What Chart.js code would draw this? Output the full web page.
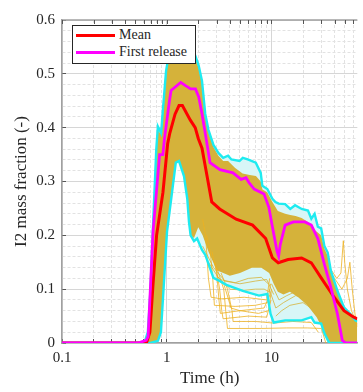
<!DOCTYPE html>
<html>
<head>
<meta charset="utf-8">
<script src="https://cdn.jsdelivr.net/npm/chart.js@4.4.0/dist/chart.umd.min.js"></script>
<style>
  html, body { margin: 0; padding: 0; background: #fff; }
  #wrap { position: relative; width: 363px; height: 392px; overflow: hidden; }
  #legendBox {
    position: absolute; left: 72px; top: 25px; width: 122px; height: 37px;
    background: #fff; border: 1px solid #262626;
    font-family: "Liberation Serif", "Times New Roman", serif; font-size: 14px; color: #262626;
  }
  .swatch { position: absolute; left: 3px; width: 39px; height: 3px; }
  .label { position: absolute; left: 46px; height: 17px; line-height: 17px; white-space: nowrap; }
</style>
</head>
<body>
<div id="wrap">
  <canvas id="chart" width="363" height="392"></canvas>
  <div id="legendBox">
    <div class="swatch" style="top:8px;background:#ff0000"></div>
    <div class="label" style="top:0px">Mean</div>
    <div class="swatch" style="top:25px;background:#ff00ff"></div>
    <div class="label" style="top:17px">First release</div>
  </div>
</div>
<script>
// x axis: time in hours (log), y axis: I2 mass fraction
const xTickLabels = [0.1, 1, 10];
const yTickLabels = [0, 0.1, 0.2, 0.3, 0.4, 0.5, 0.6];

const firstReleaseTime = [0.1, 0.536, 0.574, 0.636, 0.664, 0.74, 0.855, 0.918, 0.952, 1.06, 1.10, 1.36, 1.51, 1.69, 1.88, 2.02, 2.17, 2.33, 2.59, 3.22, 4.29, 5.13, 5.71, 6.1, 6.84, 8.48, 9.44, 10.2, 11.3, 11.7, 12.1, 13.5, 16.2, 20.8, 24.0, 27.7, 32.0, 36.9, 42.6, 47.4, 51, 66];
const firstReleaseValue = [0, 0, 0.002, 0.005, 0.012, 0.207, 0.35, 0.35, 0.38, 0.449, 0.469, 0.484, 0.478, 0.472, 0.472, 0.457, 0.426, 0.39, 0.335, 0.322, 0.316, 0.304, 0.307, 0.298, 0.286, 0.277, 0.252, 0.216, 0.170, 0.161, 0.182, 0.219, 0.225, 0.225, 0.219, 0.194, 0.146, 0.103, 0.054, 0.005, 0, 0];

const meanTime = [0.1, 0.64, 0.69, 0.74, 0.8, 0.92, 1.02, 1.07, 1.2, 1.31, 1.41, 1.68, 1.87, 2.0, 2.17, 2.42, 2.69, 3.2, 4.6, 6.6, 8.8, 10.2, 11.6, 14.4, 19.4, 24, 29.8, 39.6, 49.2, 61, 66];
const meanValue = [0, 0, 0.02, 0.11, 0.2, 0.28, 0.37, 0.39, 0.425, 0.441, 0.441, 0.414, 0.40, 0.38, 0.362, 0.311, 0.262, 0.249, 0.23, 0.219, 0.194, 0.158, 0.149, 0.155, 0.158, 0.149, 0.121, 0.085, 0.06, 0.048, 0.045];

const upperTime = [0.1, 0.58, 0.62, 0.66, 0.7, 0.74, 0.794, 0.823, 0.883, 0.918, 0.985, 1.06, 1.27, 1.63, 1.75, 1.88, 2.02, 2.17, 2.33, 2.5, 2.79, 3.11, 3.46, 3.85, 4.14, 4.95, 5.32, 5.93, 7.08, 7.89, 8.18, 9.12, 10.2, 10.9, 11.7, 13.5, 15.1, 16.8, 19.4, 22.3, 24.0, 25.8, 27.7, 29.8, 32.0, 34.4, 36.9, 42.6, 49.2, 56.8, 63.2, 66];
const upperValue = [0, 0, 0.004, 0.02, 0.1, 0.22, 0.359, 0.402, 0.39, 0.432, 0.505, 0.542, 0.55, 0.554, 0.548, 0.533, 0.515, 0.487, 0.426, 0.396, 0.368, 0.353, 0.344, 0.348, 0.341, 0.338, 0.344, 0.341, 0.335, 0.316, 0.292, 0.286, 0.268, 0.262, 0.259, 0.258, 0.249, 0.256, 0.249, 0.246, 0.231, 0.24, 0.216, 0.213, 0.18, 0.168, 0.134, 0.097, 0.066, 0.054, 0.042, 0.04];

const lowerTime = [0.1, 0.7, 0.823, 0.88, 1.006, 1.09, 1.22, 1.31, 1.46, 1.57, 1.63, 1.69, 1.82, 1.95, 2.17, 2.33, 2.79, 3.22, 3.71, 5.32, 7.6, 9.12, 9.8, 10.5, 13.5, 19.4, 24.0, 25.8, 29.8, 32.0, 35.6, 66];
const lowerValue = [0, 0, 0.004, 0.02, 0.207, 0.26, 0.335, 0.338, 0.31, 0.268, 0.225, 0.2, 0.189, 0.194, 0.173, 0.164, 0.121, 0.115, 0.108, 0.097, 0.088, 0.091, 0.054, 0.038, 0.042, 0.042, 0.048, 0.038, 0.036, 0.018, 0, 0];

// dense part of the ensemble
const goldTopTime = [0.1, 0.58, 0.62, 0.66, 0.7, 0.74, 0.794, 0.823, 0.883, 0.918, 0.985, 1.06, 1.27, 1.63, 1.75, 1.88, 2.02, 2.17, 2.33, 2.5, 2.79, 3.11, 3.46, 3.85, 4.5, 5.3, 6.2, 7.1, 7.9, 8.2, 9.1, 10.2, 11.5, 13.5, 15.1, 17, 19.4, 22.3, 25.8, 29.8, 32, 34.4, 36.9, 42.6, 49.2, 56.8, 63.2, 66];
const goldTopValue = [0, 0, 0.004, 0.02, 0.1, 0.22, 0.355, 0.395, 0.388, 0.428, 0.5, 0.538, 0.546, 0.55, 0.544, 0.53, 0.51, 0.482, 0.422, 0.392, 0.364, 0.348, 0.338, 0.338, 0.325, 0.315, 0.312, 0.31, 0.3, 0.285, 0.28, 0.262, 0.245, 0.24, 0.238, 0.236, 0.232, 0.225, 0.21, 0.2, 0.175, 0.162, 0.13, 0.095, 0.065, 0.054, 0.042, 0.04];
const goldBottomTime = [0.1, 0.7, 0.823, 0.88, 1.006, 1.09, 1.22, 1.31, 1.46, 1.57, 1.63, 1.69, 1.82, 2.0, 2.2, 2.5, 3.0, 4.0, 5.0, 6.5, 8.0, 9.5, 10.5, 11.5, 13, 15, 18, 22, 27, 32, 35, 66];
const goldBottomValue = [0, 0, 0.004, 0.02, 0.207, 0.26, 0.335, 0.338, 0.31, 0.268, 0.225, 0.2, 0.195, 0.215, 0.2, 0.17, 0.135, 0.125, 0.13, 0.14, 0.14, 0.13, 0.11, 0.095, 0.09, 0.095, 0.085, 0.07, 0.048, 0.02, 0, 0];

// single runs that stand out of the band
const runTimes = [
  [2.4, 2.6, 2.75, 2.85, 4.5, 7, 9.2, 9.8],
  [2.7, 3.0, 3.15, 3.25, 5, 7.5, 9.4, 10],
  [3.0, 3.5, 3.7, 3.8, 8, 14, 22, 30, 33],
  [2.2, 2.35, 2.5, 2.65, 3.3, 5.5, 9, 9.6],
  [3.3, 3.8, 4.2, 4.3, 7, 10.5, 16, 24, 28],
  [2.9, 3.2, 3.35, 3.45, 6, 9, 9.9],
  [3.5, 3.9, 4.1, 5, 8.5, 9.7],
  [36, 42, 46, 48.5, 50, 53, 58, 66],
  [40, 47, 53, 56, 59, 63, 66]
];
const runValues = [
  [0.2, 0.17, 0.12, 0.07, 0.068, 0.07, 0.075, 0.11],
  [0.17, 0.13, 0.08, 0.055, 0.06, 0.055, 0.06, 0.1],
  [0.14, 0.1, 0.05, 0.027, 0.027, 0.028, 0.028, 0.027, 0],
  [0.23, 0.2, 0.12, 0.085, 0.082, 0.085, 0.08, 0.12],
  [0.13, 0.1, 0.06, 0.04, 0.04, 0.037, 0.04, 0.038, 0.02],
  [0.15, 0.1, 0.06, 0.045, 0.05, 0.048, 0.08],
  [0.11, 0.08, 0.065, 0.06, 0.065, 0.09],
  [0.14, 0.12, 0.13, 0.19, 0.15, 0.1, 0.06, 0.035],
  [0.12, 0.1, 0.12, 0.15, 0.1, 0.05, 0.03]
];
const sparseTimes = [
  [9.5, 11, 13, 17, 22, 27, 31],
  [10, 11.8, 14, 18, 23, 28],
  [2.2, 2.8, 3.6, 5, 7, 9, 10.5],
  [3.0, 4, 5.5, 7, 8.5, 9.6],
  [2.5, 3.2, 4.5, 6, 8, 9.3],
  [11, 12.5, 15, 20, 26, 30]
];
const sparseValues = [
  [0.1, 0.065, 0.075, 0.088, 0.085, 0.06, 0.035],
  [0.11, 0.08, 0.088, 0.098, 0.092, 0.065],
  [0.18, 0.14, 0.115, 0.11, 0.115, 0.118, 0.09],
  [0.125, 0.1, 0.098, 0.1, 0.1, 0.095],
  [0.15, 0.118, 0.112, 0.12, 0.122, 0.11],
  [0.05, 0.06, 0.07, 0.075, 0.06, 0.04]
];

const xMin = 0.1, xMax = 66;

function pts(ts, vs) {
    return ts.map((t, i) => ({ x: t, y: vs[i] }));
}

function isDecade(v) {
    const l = Math.log10(v);
    return Math.abs(l - Math.round(l)) < 1e-6;
}

function buildXGrid() {
    const out = [];
    for (let e = -1; e <= 1; e++) {
        for (let m = 1; m <= 9; m++) {
            const v = +(m * Math.pow(10, e)).toPrecision(6);
            if (v >= xMin && v <= xMax) out.push(v);
        }
    }
    return out;
}

function buildYGrid() {
    const out = [];
    for (let i = 0; i <= 30; i++) out.push(i / 50);
    return out;
}

function isYMajor(v) {
    return yTickLabels.some(l => Math.abs(l - v) < 1e-9);
}

const serif = '"Liberation Serif", "Times New Roman", serif';
const GOLD = '#d5b23a', ORANGE = '#edb120', CYAN = '#1eebf0', LIGHTCYAN = '#d8f6f7';

function lineSet(data, color, width, order, extra) {
    return Object.assign({
        data: data, borderColor: color, borderWidth: width, order: order,
        fill: false, pointRadius: 0, tension: 0
    }, extra || {});
}

const datasets = [];
datasets.push(lineSet(pts(firstReleaseTime, firstReleaseValue), '#ff00ff', 2.8, 0));
datasets.push(lineSet(pts(meanTime, meanValue), '#ff0000', 3, 1));
datasets.push(lineSet(pts(upperTime, upperValue), CYAN, 2.4, 2));
const lowerIndex = datasets.length;
datasets.push(lineSet(pts(lowerTime, lowerValue), CYAN, 2.4, 3));
runTimes.forEach((ts, i) => datasets.push(lineSet(pts(ts, runValues[i]), ORANGE, 0.8, 4)));
sparseTimes.forEach((ts, i) => datasets.push(lineSet(pts(ts, sparseValues[i]), GOLD, 0.8, 5)));
const goldTopIndex = datasets.length;
datasets.push(lineSet(pts(goldTopTime, goldTopValue), GOLD, 0, 6,
    { fill: { target: goldTopIndex + 1 }, backgroundColor: GOLD }));
datasets.push(lineSet(pts(goldBottomTime, goldBottomValue), GOLD, 0, 7));
datasets.push(lineSet(pts(upperTime, upperValue), CYAN, 0, 8,
    { fill: { target: lowerIndex }, backgroundColor: LIGHTCYAN }));

// MATLAB style box: top edge with inward ticks
const topFrame = {
    id: 'topFrame',
    afterDatasetsDraw(chart) {
        const { ctx, chartArea } = chart;
        const xs = chart.scales.x;
        ctx.save();
        ctx.strokeStyle = '#a0a0a0';
        ctx.lineWidth = 1.5;
        ctx.beginPath();
        ctx.moveTo(chartArea.left, chartArea.top);
        ctx.lineTo(chartArea.right, chartArea.top);
        ctx.stroke();
        ctx.strokeStyle = '#555';
        ctx.lineWidth = 1;
        ctx.beginPath();
        xs.ticks.forEach(t => {
            const px = Math.round(xs.getPixelForValue(t.value)) + 0.5;
            ctx.moveTo(px, chartArea.top);
            ctx.lineTo(px, chartArea.top + 4);
        });
        ctx.stroke();
        ctx.restore();
    }
};

new Chart(document.getElementById('chart'), {
    type: 'line',
    data: { datasets: datasets },
    plugins: [topFrame],
    options: {
        responsive: false,
        animation: false,
        devicePixelRatio: 1,
        layout: { padding: { top: 14, left: 0, right: 0, bottom: 0 } },
        plugins: { legend: { display: false }, tooltip: { enabled: false } },
        scales: {
            x: {
                type: 'logarithmic',
                min: xMin,
                max: xMax,
                afterBuildTicks: s => { s.ticks = buildXGrid().map(v => ({ value: v })); },
                afterFit: s => { s.height = 49; },
                ticks: {
                    autoSkip: false, maxRotation: 0, padding: 10, color: '#262626',
                    font: { family: serif, size: 15 },
                    callback: v => (xTickLabels.some(l => Math.abs(l - v) < 1e-9) ? String(v) : '')
                },
                grid: {
                    color: c => (c.tick && isDecade(c.tick.value) ? '#d6d6d6' : '#e2e2e2'),
                    tickLength: -4, tickColor: '#555'
                },
                border: { color: '#a0a0a0', width: 1.5, dash: c => (c.tick && !isDecade(c.tick.value) ? [3, 2] : []) },
                title: {
                    display: true, text: 'Time (h)', color: '#262626',
                    font: { family: serif, size: 17 }, padding: { top: 0, bottom: 3 }
                }
            },
            y: {
                type: 'linear',
                min: 0,
                max: 0.6,
                afterBuildTicks: s => { s.ticks = buildYGrid().map(v => ({ value: v })); },
                afterFit: s => { s.width = 62; },
                ticks: {
                    autoSkip: false, padding: 11, color: '#262626',
                    font: { family: serif, size: 15 },
                    callback: v => (isYMajor(v) ? (v === 0 ? '0' : v.toFixed(1)) : '')
                },
                grid: {
                    color: c => (c.tick && isYMajor(c.tick.value) ? '#d6d6d6' : '#e2e2e2'),
                    tickLength: -4,
                    tickColor: c => (c.tick && isYMajor(c.tick.value) ? '#555' : 'rgba(0,0,0,0)')
                },
                border: { color: '#a0a0a0', width: 1.5, dash: c => (c.tick && !isYMajor(c.tick.value) ? [3, 2] : []) },
                title: {
                    display: true, text: 'I2 mass fraction (-)', color: '#262626',
                    font: { family: serif, size: 17 }, padding: { top: 11, bottom: 0 }
                }
            }
        }
    }
});
</script>
</body>
</html>
